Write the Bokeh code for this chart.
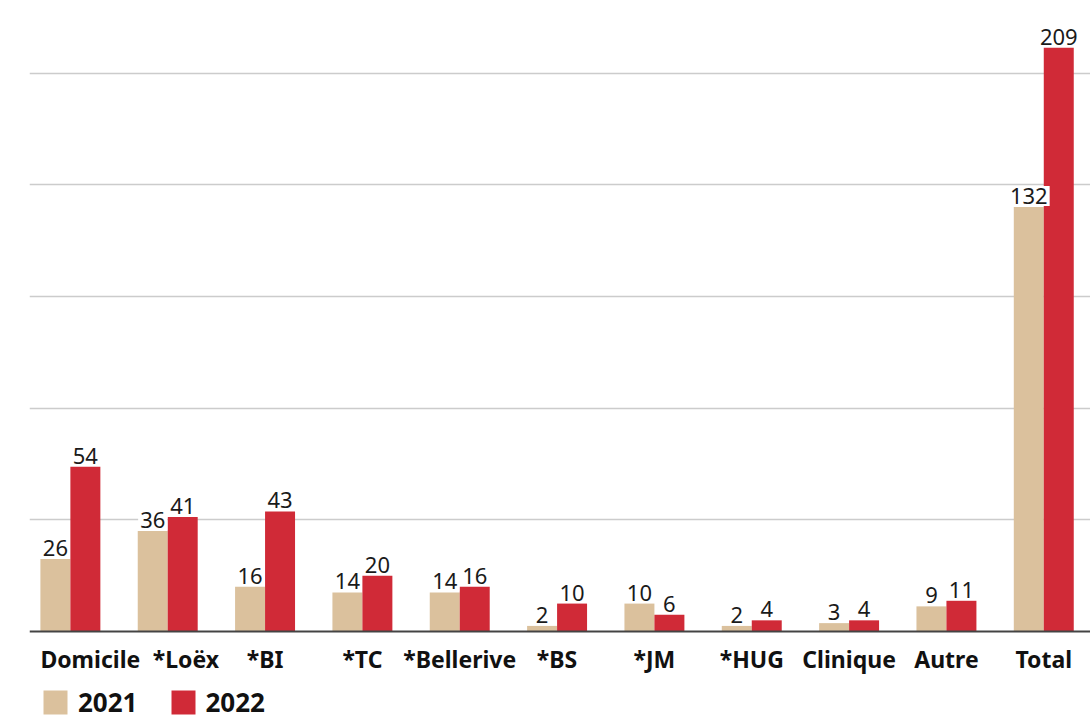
from bokeh.plotting import figure
from bokeh.models import (ColumnDataSource, Range1d, FixedTicker, Legend, LegendItem, Span)
from bokeh.transform import dodge
from bokeh.core.properties import value
from bokeh.embed import file_html
from bokeh.resources import INLINE

categories = ["Domicile", "*Loëx", "*BI", "*TC", "*Bellerive", "*BS", "*JM",
              "*HUG", "Clinique", "Autre", "Total"]
# bar heights as drawn in the reference
values_2021 = [26, 36, 16, 14, 14, 2, 10, 2, 3, 9, 152]
values_2022 = [59, 41, 43, 20, 16, 10, 6, 4, 4, 11, 209]
# numbers printed above the bars
labels_2021 = ["26", "36", "16", "14", "14", "2", "10", "2", "3", "9", "132"]
labels_2022 = ["54", "41", "43", "20", "16", "10", "6", "4", "4", "11", "209"]
grid_ticks = [40, 80, 120, 160, 200]

C21 = "#DBC19D"
C22 = "#D02A37"
FONT = "Noto Sans"
bw = 0.308

n = len(categories)
xs = list(range(n))
# the two first labels are left-aligned (as in the reference) so they do not collide
left_shift = [1.0, 0.5] + [0.0] * (n - 2)
cat_align = ["left" if s else "center" for s in left_shift]
cat_x = [x - s * bw for x, s in zip(xs, left_shift)]

src = ColumnDataSource(dict(
    x=xs, cat=categories, cat_x=cat_x, cat_align=cat_align,
    base=[0] * n,
    v21=values_2021, v22=values_2022,
    l21=labels_2021, l22=labels_2022,
))

p = figure(frame_width=1061, frame_height=712,
           x_range=Range1d(-0.42, n - 1 + 0.48),
           y_range=Range1d(-31.87, 223.1),
           x_axis_location=None, y_axis_location=None,
           output_backend="svg", toolbar_location=None,
           min_border_left=29, min_border_right=0, min_border_top=8,
           min_border_bottom=0, outline_line_color=None)

r21 = p.vbar(x=dodge("x", -bw / 2, range=p.x_range), top="v21", width=bw,
             source=src, fill_color=C21, line_color=None)
r22 = p.vbar(x=dodge("x", bw / 2, range=p.x_range), top="v22", width=bw,
             source=src, fill_color=C22, line_color=None)

for xcol, ycol, lcol in [(-bw / 2, "v21", "l21"), (bw / 2, "v22", "l22")]:
    p.text(x=dodge("x", xcol, range=p.x_range), y=ycol, text=lcol, source=src,
           text_align="center", text_baseline="alphabetic", y_offset=-11,
           text_font=value(FONT), text_font_size="22px", text_color="#1a1a1a",
           background_fill_color="white", padding=2)

# category labels under the baseline
p.text(x="cat_x", y="base", text="cat", source=src, text_align="cat_align",
       text_baseline="middle", y_offset=27, text_font=value(FONT),
       text_font_style="bold", text_font_size="23px", text_color="#111111")

p.xgrid.grid_line_color = None
p.ygrid.ticker = FixedTicker(ticks=grid_ticks)
p.ygrid.grid_line_color = "#cccccc"
p.ygrid.grid_line_width = 1.5

p.add_layout(Span(location=0, dimension="width", line_color="#444444", line_width=2))

legend = Legend(items=[LegendItem(label="2021", renderers=[r21]),
                       LegendItem(label="2022", renderers=[r22])],
                orientation="horizontal", location=(11, 0),
                glyph_width=30, glyph_height=30, label_standoff=8, spacing=30,
                label_text_font=FONT, label_text_font_style="bold",
                label_text_font_size="26px", label_text_color="#111111",
                label_height=30,
                padding=0, margin=0, border_line_color=None,
                background_fill_alpha=0)
p.add_layout(legend, "center")

open("out.html", "w").write(file_html(p, INLINE))
